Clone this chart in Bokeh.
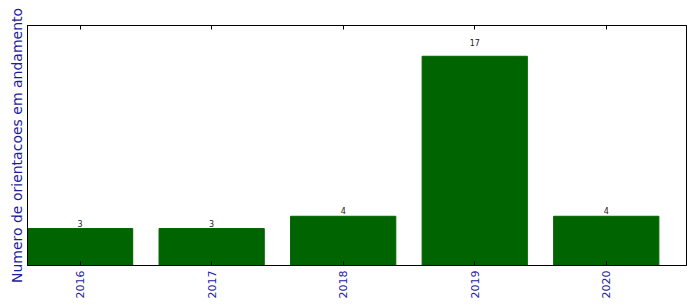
import numpy as np
from bokeh.plotting import figure
from bokeh.models import FixedTicker, LinearAxis, ColumnDataSource, Range1d
from bokeh.core.properties import value
from bokeh.embed import file_html
from bokeh.resources import INLINE

years = ["2016", "2017", "2018", "2019", "2020"]
counts = [3, 3, 4, 17, 4]
ylabel = "Numero de orientacoes em andamento"

idx = list(range(len(years)))
src = ColumnDataSource(dict(x=idx, top=counts,
                            ly=[c * 1.05 for c in counts],
                            txt=[str(c) for c in counts]))

p = figure(width=696, height=308, output_backend="svg", toolbar_location=None,
           x_range=Range1d(-0.4, 4.61), y_range=Range1d(0, 19.5),
           min_border_left=27, min_border_right=10, min_border_top=25, min_border_bottom=43)

p.vbar(x="x", top="top", width=0.8, bottom=0, source=src,
       fill_color="#006400", line_color="#006400")
p.text(x="x", y="ly", text="txt", source=src, text_align="center", text_baseline="bottom",
       text_font_size="8px", text_color="#222222", text_font=value("DejaVu Sans"))

p.xgrid.visible = False
p.ygrid.visible = False
p.outline_line_color = "black"
p.outline_line_width = 1
p.background_fill_color = "white"
p.border_fill_color = "white"

xa = p.xaxis[0]
xa.ticker = FixedTicker(ticks=idx)
xa.major_label_overrides = {i: y for i, y in zip(idx, years)}
xa.major_label_orientation = np.pi / 2
xa.major_label_text_font_size = "11px"
xa.major_label_text_color = "#1c1c9e"
xa.major_label_text_font = "DejaVu Sans"
xa.major_tick_in = 4
xa.major_tick_out = 0
xa.minor_tick_line_color = None
xa.major_label_standoff = 5
xa.axis_line_color = "black"

top = LinearAxis(ticker=FixedTicker(ticks=idx), major_label_text_font_size="0px",
                 major_tick_in=4, major_tick_out=0, minor_tick_line_color=None,
                 axis_line_color="black")
top.major_label_overrides = {i: "" for i in idx}
p.add_layout(top, "above")

ya = p.yaxis[0]
ya.ticker = FixedTicker(ticks=[])
ya.major_label_text_font_size = "0px"
ya.major_tick_out = 0
ya.major_tick_in = 0
ya.minor_tick_line_color = None
ya.axis_label = ylabel
ya.axis_label_text_font_size = "14px"
ya.axis_label_text_font_style = "normal"
ya.axis_label_text_color = "#1c1c9e"
ya.axis_label_text_font = "DejaVu Sans"
ya.axis_label_standoff = 3
ya.axis_line_color = "black"

open("out.html", "w").write(file_html(p, INLINE))
